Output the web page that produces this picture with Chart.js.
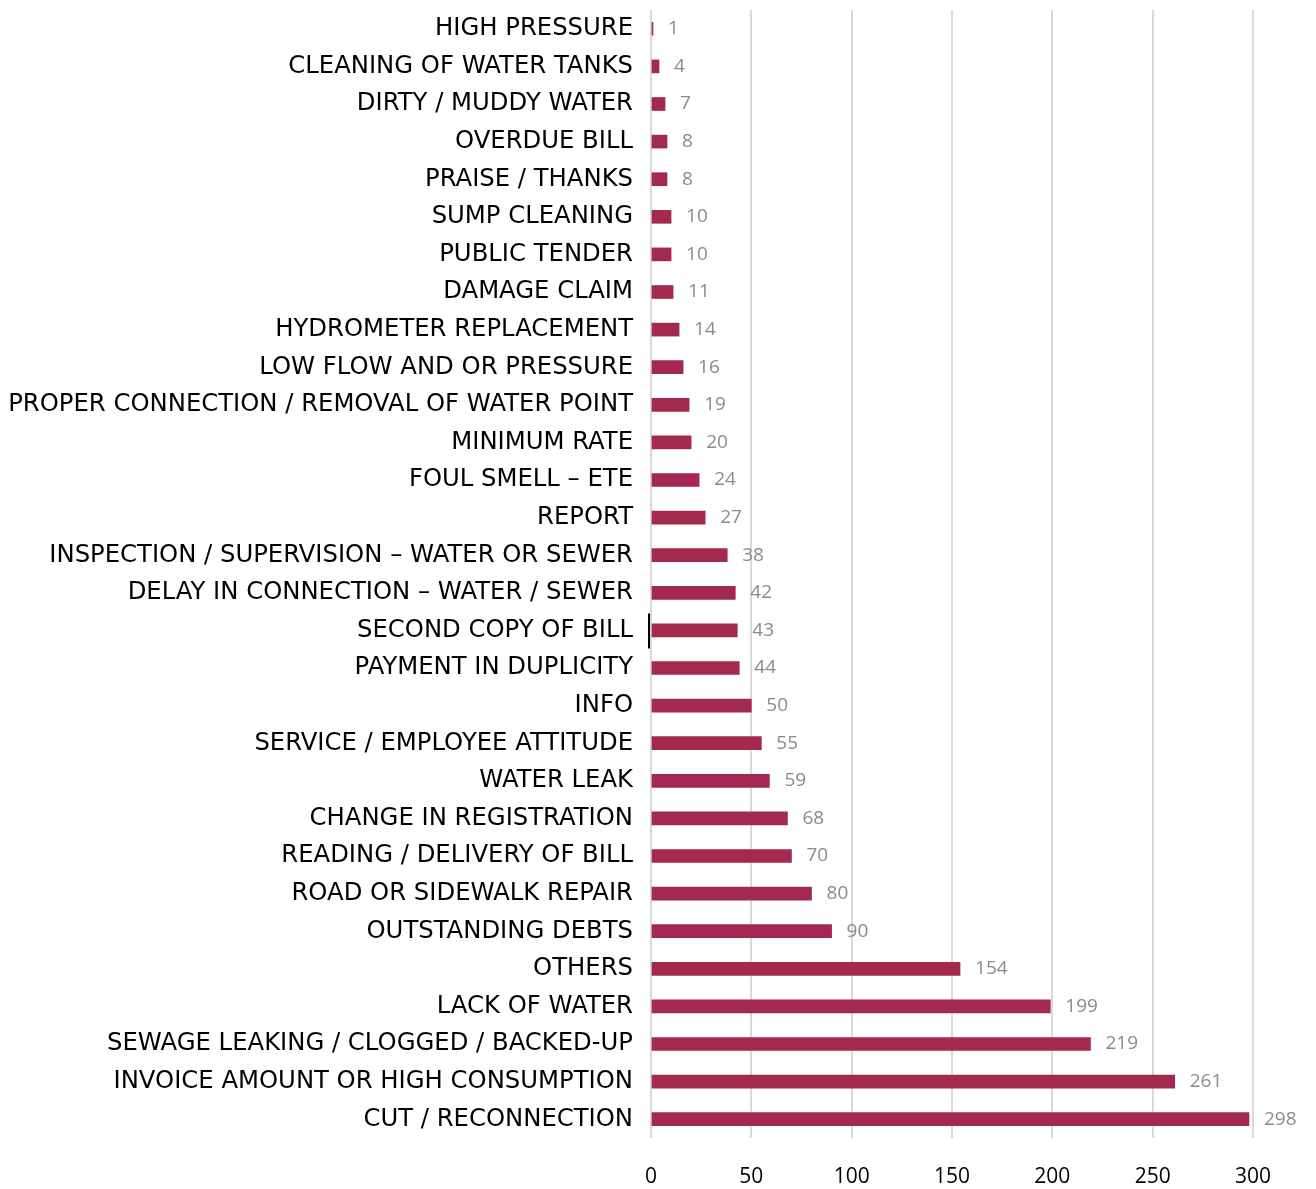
<!DOCTYPE html>
<html>
<head>
<meta charset="utf-8">
<script src="https://cdn.jsdelivr.net/npm/chart.js@4.4.1/dist/chart.umd.min.js"></script>
<style>
  html, body { margin: 0; padding: 0; background: #fff; }
  #wrap { width: 1316px; height: 1189px; }
</style>
</head>
<body>
<div id="wrap"><canvas id="complaints-chart"></canvas></div>
<script>
const categories = [
    "HIGH PRESSURE",
    "CLEANING OF WATER TANKS",
    "DIRTY / MUDDY WATER",
    "OVERDUE BILL",
    "PRAISE / THANKS",
    "SUMP CLEANING",
    "PUBLIC TENDER",
    "DAMAGE CLAIM",
    "HYDROMETER REPLACEMENT",
    "LOW FLOW AND OR PRESSURE",
    "PROPER CONNECTION / REMOVAL OF WATER POINT",
    "MINIMUM RATE",
    "FOUL SMELL \u2013 ETE",
    "REPORT",
    "INSPECTION / SUPERVISION \u2013 WATER OR SEWER",
    "DELAY IN CONNECTION \u2013 WATER / SEWER",
    "SECOND COPY OF BILL",
    "PAYMENT IN DUPLICITY",
    "INFO",
    "SERVICE / EMPLOYEE ATTITUDE",
    "WATER LEAK",
    "CHANGE IN REGISTRATION",
    "READING / DELIVERY OF BILL",
    "ROAD OR SIDEWALK REPAIR",
    "OUTSTANDING DEBTS",
    "OTHERS",
    "LACK OF WATER",
    "SEWAGE LEAKING / CLOGGED / BACKED-UP",
    "INVOICE AMOUNT OR HIGH CONSUMPTION",
    "CUT / RECONNECTION"
];

const counts = [1, 4, 7, 8, 8, 10, 10, 11, 14, 16, 19, 20, 24, 27, 38, 42, 43, 44, 50, 55, 59, 68, 70, 80, 90, 154, 199, 219, 261, 298];

const xTicks = [0, 50, 100, 150, 200, 250, 300];

/* ---------- value labels next to each bar ---------- */
const valueLabels = {
    id: "valueLabels",
    afterDatasetsDraw(chart) {
        const ctx = chart.ctx;
        const meta = chart.getDatasetMeta(0);
        ctx.save();
        ctx.font = "19px 'Open Sans'";
        ctx.fillStyle = "#8a8a8a";
        ctx.textAlign = "left";
        ctx.textBaseline = "middle";
        meta.data.forEach((bar, i) => {
            ctx.fillText(String(counts[i]), bar.x + 15, bar.y);
        });
        ctx.restore();
    }
};

/* ---------- little black marker left of "SECOND COPY OF BILL" ---------- */
const cursorMark = {
    id: "cursorMark",
    afterDraw(chart) {
        const idx = categories.indexOf("SECOND COPY OF BILL");
        const y = chart.scales.y.getPixelForValue(idx);
        const x = chart.scales.x.getPixelForValue(0) - 2;
        const ctx = chart.ctx;
        ctx.save();
        ctx.strokeStyle = "#000";
        ctx.lineWidth = 2;
        ctx.beginPath();
        ctx.moveTo(x, y - 17);
        ctx.lineTo(x, y + 18);
        ctx.stroke();
        ctx.restore();
    }
};

const ctx = document.getElementById("complaints-chart").getContext("2d");

new Chart(ctx, {
    type: "bar",
    data: {
        labels: categories,
        datasets: [{
            data: counts,
            backgroundColor: "#a3294f",
            barThickness: 13
        }]
    },
    options: {
        indexAxis: "y",
        responsive: true,
        maintainAspectRatio: false,
        animation: false,
        layout: {
            padding: { left: 8, top: 10, right: 63, bottom: 0 }
        },
        plugins: {
            legend: { display: false },
            tooltip: { enabled: false }
        },
        scales: {
            x: {
                min: 0,
                max: 300,
                afterBuildTicks(scale) {
                    scale.ticks = xTicks.map(v => ({ value: v }));
                },
                afterFit(scale) {
                    scale.height = 51;
                    scale.paddingLeft = 0;
                    scale.paddingRight = 0;
                },
                grid: {
                    color: "#d9d9d9",
                    lineWidth: 2,
                    drawTicks: false
                },
                border: { display: false },
                ticks: {
                    padding: 26,
                    color: "#000",
                    font: { family: "'Open Sans'", size: 21 }
                }
            },
            y: {
                afterFit(scale) {
                    scale.width = 643;
                    scale.paddingTop = 0;
                    scale.paddingBottom = 0;
                },
                grid: { display: false, drawTicks: false },
                border: { display: false },
                ticks: {
                    autoSkip: false,
                    padding: 18,
                    color: "#000",
                    font: { family: "'DejaVu Sans'", size: 24.3 }
                }
            }
        }
    },
    plugins: [valueLabels, cursorMark]
});
</script>
</body>
</html>
